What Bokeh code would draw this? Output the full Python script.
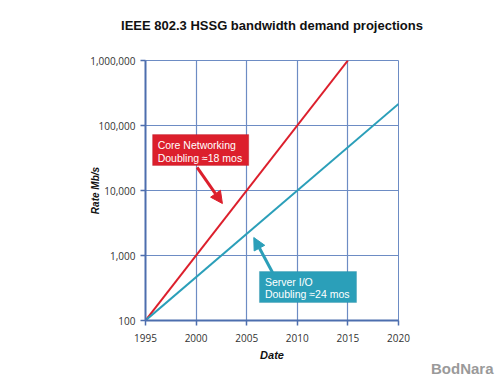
from bokeh.plotting import figure
from bokeh.models import (Range1d, FixedTicker, NumeralTickFormatter, BoxAnnotation,
                          Label, Arrow, NormalHead, Title)
from bokeh.embed import file_html
from bokeh.resources import INLINE

# Data
core_years = [1995, 2015]
core_rate = [100, 1000000]
server_years = [1995, 2020]
server_rate = [100, 215000]
x_ticks = [1995, 2000, 2005, 2010, 2015, 2020]
y_ticks = [100, 1000, 10000, 100000, 1000000]

RED = "#dc1f2c"
TEAL = "#2b9fb9"
GRID = "#6d8cc4"
AXIS = "#4d6eae"

p = figure(width=500, height=375, output_backend="svg", toolbar_location=None,
           y_axis_type="log", x_range=Range1d(1995, 2020), y_range=Range1d(100, 1000000),
           min_border_left=145, min_border_right=102, min_border_top=60, min_border_bottom=55,
           title=None)

spacer = Title(text=" ", text_font_size="14px", standoff=10)
p.add_layout(spacer, "above")
main_title = Title(text="IEEE 802.3 HSSG bandwidth demand projections", align="center",
                   text_font="Liberation Sans", text_font_size="13px",
                   text_font_style="bold", text_color="#111111", standoff=0)
p.add_layout(main_title, "above")

p.background_fill_color = "white"
p.border_fill_color = "white"
p.outline_line_color = GRID
p.outline_line_width = 1

for ax in (p.xaxis, p.yaxis):
    ax.axis_line_color = AXIS
    ax.axis_line_width = 2
    ax.major_tick_line_color = AXIS
    ax.major_tick_line_width = 1.5
    ax.major_tick_out = 5
    ax.major_tick_in = 0
    ax.minor_tick_line_color = None
    ax.major_label_text_font = "Open Sans"
    ax.major_label_text_font_size = "10px"
    ax.major_label_text_color = "#333333"
    ax.axis_label_text_font = "Liberation Sans"
    ax.axis_label_text_font_style = "bold italic"
    ax.axis_label_text_color = "#111111"

p.xaxis.ticker = FixedTicker(ticks=x_ticks)
p.yaxis.ticker = FixedTicker(ticks=y_ticks)
p.yaxis.formatter = NumeralTickFormatter(format="0,0")
p.xaxis.major_label_standoff = 8
p.xaxis.axis_label = "Date"
p.xaxis.axis_label_text_font_size = "11px"
p.xaxis.axis_label_standoff = 4
p.yaxis.axis_label = "Rate Mb/s"
p.yaxis.axis_label_text_font_size = "10px"
p.yaxis.axis_label_standoff = -14

p.xgrid.ticker = FixedTicker(ticks=x_ticks)
p.ygrid.ticker = FixedTicker(ticks=y_ticks)
p.xgrid.grid_line_color = GRID
p.ygrid.grid_line_color = GRID
p.xgrid.grid_line_width = 1.2
p.ygrid.grid_line_width = 1.2

p.line(core_years, core_rate, line_color=RED, line_width=2)
p.line(server_years, server_rate, line_color=TEAL, line_width=2)

# Core networking callout
p.add_layout(BoxAnnotation(left=1995.7, right=2005.2, bottom=24300, top=72400,
                           fill_color=RED, fill_alpha=1, line_color="#b01020", line_width=1))
p.add_layout(Label(x=1996.2, y=50000, text="Core Networking", text_color="white",
                   text_font="Liberation Sans", text_font_size="10.5px",
                   text_baseline="middle"))
p.add_layout(Label(x=1996.2, y=32000, text="Doubling \u224818 mos", text_color="white",
                   text_font="Liberation Sans", text_font_size="10.5px",
                   text_baseline="middle"))
p.add_layout(Arrow(x_start=2000.1, y_start=22600, x_end=2002.6, y_end=6300,
                   line_color=RED, line_width=3,
                   end=NormalHead(size=12, fill_color=RED, line_color=RED)))

# Server I/O callout
p.add_layout(BoxAnnotation(left=2006.26, right=2015.85, bottom=189, top=567,
                           fill_color=TEAL, fill_alpha=1, line_color="#1f86a0", line_width=1))
p.add_layout(Label(x=2006.8, y=395, text="Server I/O", text_color="white",
                   text_font="Liberation Sans", text_font_size="10.5px",
                   text_baseline="middle"))
p.add_layout(Label(x=2006.8, y=260, text="Doubling \u224824 mos", text_color="white",
                   text_font="Liberation Sans", text_font_size="10.5px",
                   text_baseline="middle"))
p.add_layout(Arrow(x_start=2007.55, y_start=547, x_end=2005.7, y_end=1890,
                   line_color=TEAL, line_width=3,
                   end=NormalHead(size=12, fill_color=TEAL, line_color=TEAL)))

# watermark
p.add_layout(Title(text="BodNara", align="right", text_color="#9a9a9a",
                   text_font="Liberation Sans", text_font_size="15px",
                   text_font_style="bold", offset=-95, standoff=-12), "below")

open("out.html", "w").write(file_html(p, INLINE))
